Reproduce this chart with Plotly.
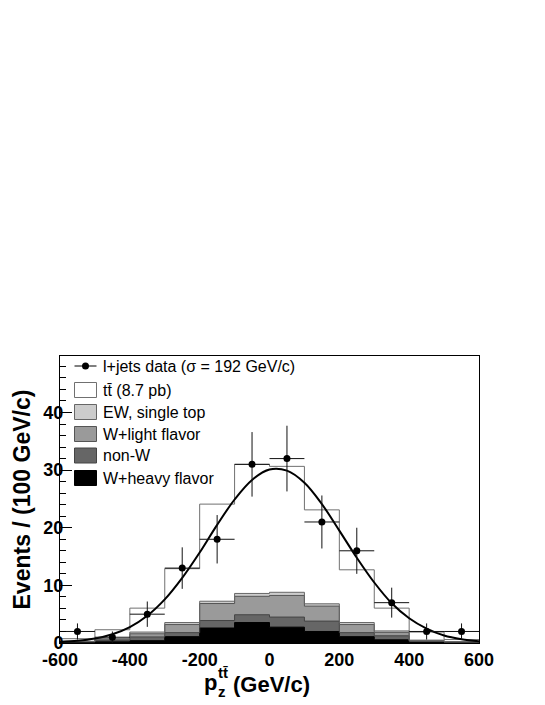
import numpy as np
import plotly.graph_objects as go

# ---------------- data ----------------
bin_edges = [-600, -500, -400, -300, -200, -100, 0, 100, 200, 300, 400, 500, 600]
bin_centers = [-550, -450, -350, -250, -150, -50, 50, 150, 250, 350, 450, 550]

data_counts = [2, 1, 5, 13, 18, 31, 32, 21, 16, 7, 2, 2]
data_err = [1.4, 1.0, 2.2, 3.6, 4.2, 5.6, 5.7, 4.6, 4.0, 2.6, 1.4, 1.4]

# per-process contributions (stacked bottom -> top)
w_heavy = [0.10, 0.20, 0.40, 1.10, 2.60, 3.55, 2.75, 2.00, 1.10, 0.55, 0.10, 0.05]
non_w = [0.10, 0.25, 0.65, 0.70, 1.30, 1.35, 1.75, 1.80, 0.70, 0.70, 0.20, 0.10]
w_light = [0.05, 0.20, 0.55, 1.40, 2.95, 3.20, 3.75, 2.60, 1.40, 0.60, 0.10, 0.05]
ew_single_top = [0.05, 0.10, 0.30, 0.35, 0.40, 0.50, 0.55, 0.40, 0.35, 0.25, 0.10, 0.05]
ttbar = [0.45, 1.55, 4.15, 9.35, 16.85, 22.40, 21.85, 16.30, 9.15, 3.95, 1.40, 0.35]

fit_x = [-600, -550, -500, -450, -400, -350, -300, -250, -200, -150, -100, -50, 0,
         50, 100, 150, 200, 250, 300, 350, 400, 450, 500, 550, 600]
fit_y = [0.17, 0.37, 0.77, 1.52, 2.77, 4.73, 7.56, 11.3, 15.7, 20.5, 24.9, 28.3, 30.1,
         29.9, 27.8, 24.1, 19.5, 14.8, 10.5, 6.9, 4.3, 2.5, 1.3, 0.67, 0.32]

x_ticks = [-600, -400, -200, 0, 200, 400, 600]
y_ticks = [0, 10, 20, 30, 40]

legend_labels = ["l+jets data (\u03c3 = 192 GeV/c)", "tt\u0304 (8.7 pb)", "EW, single top",
                 "W+light flavor", "non-W", "W+heavy flavor"]

# ---------------- styling ----------------
OFF = 8                      # default page (body) margin of the html page
W, H = 545 - OFF, 705 - OFF
PL, PR, PT, PB = 60, 479, 356, 643     # plot-area edges in page pixels
L, T = PL - OFF, PT - OFF
R, B = W + OFF - PR, H + OFF - PB
PW, PH = PR - PL, PB - PT

FONT = "Liberation Sans"
layers = [  # (values, fill colour, outline colour)
    (w_heavy, "#000000", "#000000"),
    (non_w, "#666666", "#444444"),
    (w_light, "#9a9a9a", "#555555"),
    (ew_single_top, "#cccccc", "#666666"),
    (ttbar, "#ffffff", "#707070"),
]

def fx(px):
    return (px - PL) / PW

def fy(py):
    return (PB - py) / PH

fig = go.Figure()

# cumulative stack
cum = np.cumsum(np.array([l[0] for l in layers]), axis=0)
step_x = bin_edges

# fills: draw largest first
for i in range(len(layers) - 1, -1, -1):
    top = list(cum[i]) + [cum[i][-1]]
    fig.add_trace(go.Scatter(x=step_x, y=top, mode="lines", line=dict(shape="hv", width=0),
                             fill="tozeroy", fillcolor=layers[i][1], showlegend=False,
                             hoverinfo="skip"))
# outlines
for i in range(len(layers)):
    top = list(cum[i]) + [cum[i][-1]]
    fig.add_trace(go.Scatter(x=step_x, y=top, mode="lines",
                             line=dict(shape="hv", width=1, color=layers[i][2]),
                             showlegend=False, hoverinfo="skip"))

# fit curve
fig.add_trace(go.Scatter(x=fit_x, y=fit_y, mode="lines",
                         line=dict(color="black", width=2, shape="spline", smoothing=1.0),
                         showlegend=False))

# data
fig.add_trace(go.Scatter(x=bin_centers, y=data_counts, mode="markers",
                         marker=dict(color="black", size=7),
                         error_x=dict(type="constant", value=50, width=0, thickness=1, color="#111111"),
                         error_y=dict(type="data", array=data_err, width=0, thickness=1, color="#111111"),
                         showlegend=False))

# ---------------- manual legend ----------------
shapes = []
annotations = []
row_y = [366, 390, 412, 434, 455.5, 478]
box_x0, box_x1 = 74.5, 96.5
text_x = 101

shapes.append(dict(type="line", xref="paper", yref="paper", x0=fx(box_x0), x1=fx(box_x1),
                   y0=fy(row_y[0]), y1=fy(row_y[0]), line=dict(color="black", width=1)))
shapes.append(dict(type="circle", xref="paper", yref="paper", xsizemode="pixel", ysizemode="pixel",
                   xanchor=fx(85.5), yanchor=fy(row_y[0]), x0=-3.5, x1=3.5, y0=-3.5, y1=3.5,
                   fillcolor="black", line=dict(color="black", width=0)))
legend_styles = [layers[4], layers[3], layers[2], layers[1], layers[0]]
for k, (vals, fc, lc) in enumerate(legend_styles):
    yc = row_y[k + 1]
    shapes.append(dict(type="rect", xref="paper", yref="paper", x0=fx(box_x0), x1=fx(box_x1),
                       y0=fy(yc + 7.5), y1=fy(yc - 7.5), fillcolor=fc,
                       line=dict(color=lc, width=1)))
for k, lab in enumerate(legend_labels):
    annotations.append(dict(text=lab, xref="paper", yref="paper", x=fx(text_x), y=fy(row_y[k]),
                            xanchor="left", yanchor="middle", showarrow=False,
                            font=dict(family=FONT, size=16, color="black")))

# axis titles
annotations.append(dict(text="Events / (100 GeV/c)", xref="paper", yref="paper",
                        x=fx(21), y=0.5, textangle=-90, xanchor="center", yanchor="middle",
                        showarrow=False, font=dict(family=FONT, size=23, color="black", weight="bold")))
annotations.append(dict(text="p", xref="paper", yref="paper", x=fx(202), y=fy(682),
                        xanchor="left", yanchor="middle", showarrow=False,
                        font=dict(family=FONT, size=22, color="black", weight="bold")))
annotations.append(dict(text="z", xref="paper", yref="paper", x=fx(216), y=fy(691),
                        xanchor="left", yanchor="middle", showarrow=False,
                        font=dict(family=FONT, size=15, color="black", weight="bold")))
annotations.append(dict(text="tt\u0304", xref="paper", yref="paper", x=fx(216), y=fy(672),
                        xanchor="left", yanchor="middle", showarrow=False,
                        font=dict(family=FONT, size=15, color="black", weight="bold")))
annotations.append(dict(text="(GeV/c)", xref="paper", yref="paper", x=fx(231), y=fy(684),
                        xanchor="left", yanchor="middle", showarrow=False,
                        font=dict(family=FONT, size=22, color="black", weight="bold")))

fig.update_layout(
    width=W, height=H,
    margin=dict(l=L, r=R, t=T, b=B, autoexpand=False),
    paper_bgcolor="white", plot_bgcolor="white",
    showlegend=False,
    shapes=shapes, annotations=annotations,
    xaxis=dict(range=[-600, 600], tickvals=x_ticks, ticktext=[str(v) for v in x_ticks],
               ticks="", showgrid=False, zeroline=False, showline=True, mirror=True,
               linecolor="black", linewidth=1, ticklabelstandoff=0,
               tickfont=dict(family=FONT, size=18, color="black", weight="bold")),
    yaxis=dict(range=[0, 49.8], tickvals=y_ticks, ticktext=[str(v) for v in y_ticks],
               ticks="inside", ticklen=12, tickcolor="black", tickwidth=1,
               minor=dict(ticks="inside", ticklen=6, dtick=2, tick0=0, tickcolor="black", tickwidth=1,
                          showgrid=False),
               showgrid=False, zeroline=False, showline=True, mirror=True,
               linecolor="black", linewidth=1, ticklabelstandoff=-8,
               tickfont=dict(family=FONT, size=18, color="black", weight="bold")),
)

fig.write_html("out.html")
